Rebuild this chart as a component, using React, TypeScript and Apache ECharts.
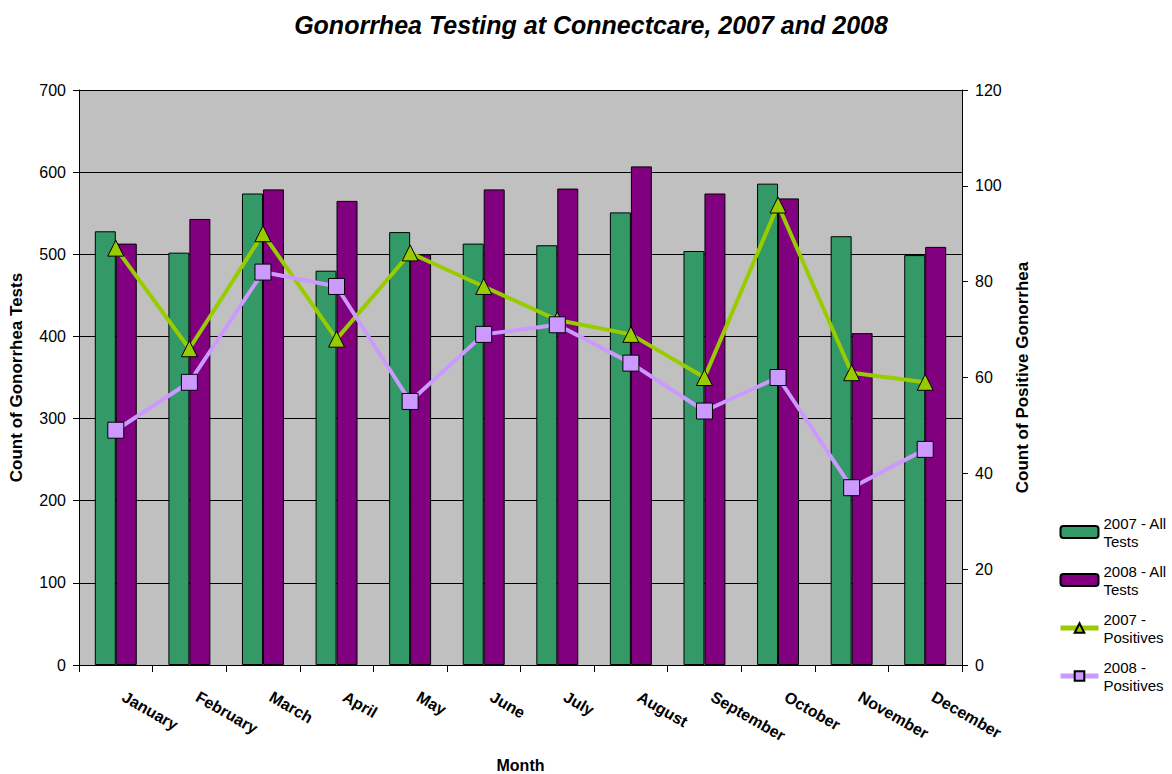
import React, { useEffect, useRef } from "react";
import * as echarts from "echarts";

const months = ["January", "February", "March", "April", "May", "June", "July", "August", "September", "October", "November", "December"];
const tests2007 = [528, 502, 574, 480, 527, 513, 511, 551, 504, 586, 522, 499];
const tests2008 = [513, 543, 579, 565, 500, 579, 580, 607, 574, 568, 404, 509];
const pos2007 = [87, 66, 90, 68, 86, 79, 72, 69, 60, 96, 61, 59];
const pos2008 = [49, 59, 82, 79, 55, 69, 71, 63, 53, 60, 37, 45];

const legendLabels: Record<string, string> = {
  "2007 - All Tests": "2007 - All\nTests",
  "2008 - All Tests": "2008 - All\nTests",
  "2007 - Positives": "2007 -\nPositives",
  "2008 - Positives": "2008 -\nPositives",
};

const FONT = "'Liberation Sans', Arial, sans-serif";

export default function App() {
  const ref = useRef<HTMLDivElement>(null);
  useEffect(() => {
    document.body.style.margin = "0";
    const chart = echarts.init(ref.current!, null, { renderer: "svg" });
    chart.setOption({
      animation: false,
      backgroundColor: "#ffffff",
      textStyle: { fontFamily: FONT, color: "#000" },
      title: {
        text: "Gonorrhea Testing at Connectcare, 2007 and 2008",
        left: 586,
        textAlign: "center",
        top: 7,
        textStyle: { fontFamily: FONT, fontSize: 25, fontWeight: "bold", fontStyle: "italic", color: "#000" },
      },
      grid: {
        left: 79,
        right: 210,
        top: 90,
        bottom: 109,
        show: true,
        backgroundColor: "#C0C0C0",
        borderWidth: 0,
        outerBoundsMode: "none",
        containLabel: false,
      },
      legend: {
        orient: "vertical",
        left: 1058,
        top: 505,
        padding: 0,
        itemWidth: 38,
        itemHeight: 12,
        itemGap: -6,
        lineStyle: { width: 5 },
        textStyle: { fontFamily: FONT, fontSize: 15, color: "#000", lineHeight: 18, padding: [18, 0, 0, 0] },
        formatter: (name: string) => legendLabels[name] || name,
        data: ["2007 - All Tests", "2008 - All Tests", "2007 - Positives", "2008 - Positives"],
      },
      xAxis: {
        type: "category",
        data: months,
        boundaryGap: true,
        name: "Month",
        nameLocation: "middle",
        nameGap: 92,
        nameTextStyle: { fontFamily: FONT, fontSize: 16, fontWeight: "bold", color: "#000" },
        axisLine: { lineStyle: { color: "#000", width: 1 } },
        axisTick: { show: true, length: 7, lineStyle: { color: "#000" } },
        axisLabel: {
          rotate: -30,
          margin: 26,
          padding: [0, 0, 0, 9],
          fontFamily: FONT,
          fontSize: 16,
          fontWeight: "bold",
          color: "#000",
          interval: 0,
        },
      },
      yAxis: [
        {
          type: "value",
          min: 0,
          max: 700,
          interval: 100,
          name: "Count of Gonorrhea Tests",
          nameLocation: "middle",
          nameGap: 54,
          nameRotate: 90,
          nameTextStyle: { fontFamily: FONT, fontSize: 17, fontWeight: "bold", color: "#000" },
          axisLine: { show: true, lineStyle: { color: "#000", width: 1 } },
          axisTick: { show: true, length: 6, lineStyle: { color: "#000" } },
          axisLabel: { fontFamily: FONT, fontSize: 16, color: "#000", margin: 13 },
          splitLine: { show: true, lineStyle: { color: "#000", width: 1 } },
        },
        {
          type: "value",
          min: 0,
          max: 120,
          interval: 20,
          position: "right",
          name: "Count of Positive Gonorrhea",
          nameLocation: "middle",
          nameGap: 52,
          nameRotate: 90,
          nameTextStyle: { fontFamily: FONT, fontSize: 17, fontWeight: "bold", color: "#000" },
          axisLine: { show: true, lineStyle: { color: "#000", width: 1 } },
          axisTick: { show: true, length: 6, lineStyle: { color: "#000" } },
          axisLabel: { fontFamily: FONT, fontSize: 16, color: "#000", margin: 13 },
          splitLine: { show: false },
        },
      ],
      series: [
        {
          name: "2007 - All Tests",
          type: "bar",
          data: tests2007,
          barGap: "0%",
          barCategoryGap: "43%",
          itemStyle: { color: "#339966", borderColor: "#000", borderWidth: 1 },
        },
        {
          name: "2008 - All Tests",
          type: "bar",
          data: tests2008,
          barGap: "0%",
          barCategoryGap: "43%",
          itemStyle: { color: "#800080", borderColor: "#000", borderWidth: 1 },
        },
        {
          name: "2007 - Positives",
          type: "line",
          yAxisIndex: 1,
          data: pos2007,
          symbol: "triangle",
          symbolSize: 16,
          lineStyle: { color: "#99CC00", width: 4 },
          itemStyle: { color: "#99CC00", borderColor: "#000", borderWidth: 1 },
        },
        {
          name: "2008 - Positives",
          type: "line",
          yAxisIndex: 1,
          data: pos2008,
          symbol: "rect",
          symbolSize: 16,
          lineStyle: { color: "#CC99FF", width: 4 },
          itemStyle: { color: "#CC99FF", borderColor: "#000", borderWidth: 1 },
        },
      ],
    });
    return () => chart.dispose();
  }, []);
  return <div ref={ref} style={{ width: 1172, height: 774 }} />;
}
